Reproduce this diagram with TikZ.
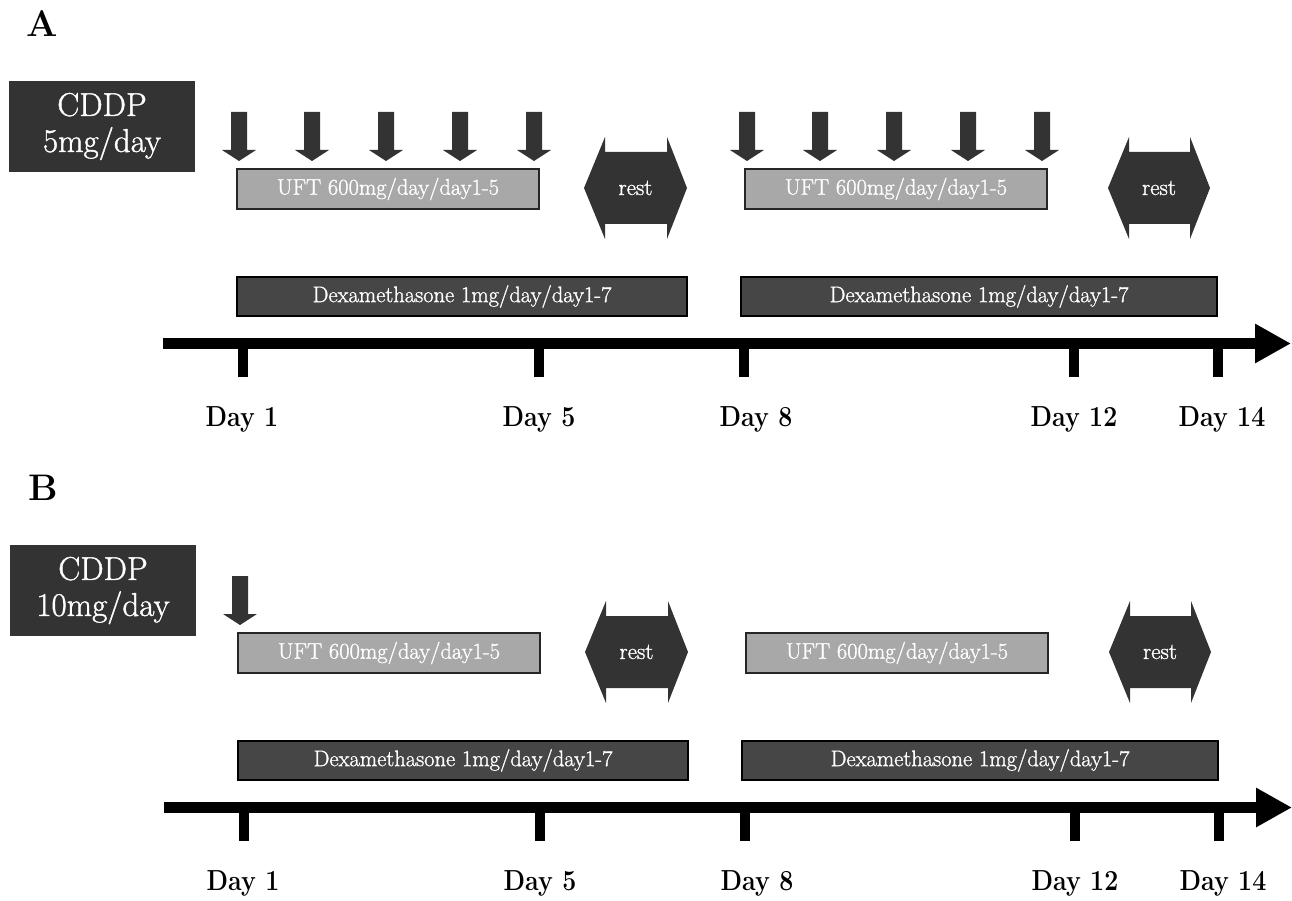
\documentclass[tikz,border=0pt]{standalone}
\usepackage{fontspec}
\usepackage{graphicx}
\newfontfamily\heavyserif{Latin Modern Roman}[FakeBold=1.2]
\usetikzlibrary{arrows.meta}
\definecolor{cdark}{HTML}{333333}
\definecolor{cuft}{HTML}{A8A8A8}
\definecolor{cdex}{HTML}{464646}
\tikzset{
  dosebox/.style={fill=cdark, text=white, minimum width=186pt, minimum height=91pt, inner sep=0pt, align=center, font=\heavyserif\fontsize{33}{36}\selectfont},
  uftbox/.style={draw=black!85, line width=1.3pt, fill=cuft, text=white, inner sep=0pt, minimum width=302pt, minimum height=40pt, font=\heavyserif\fontsize{22.5}{24}\selectfont},
  dexbox/.style={draw=black, line width=1.3pt, fill=cdex, text=white, inner sep=0pt, minimum height=39pt, font=\heavyserif\fontsize{22.5}{24}\selectfont},
  restlabel/.style={text=white, inner sep=0pt, font=\heavyserif\fontsize{23}{24}\selectfont},
  daylabel/.style={inner sep=0pt, font=\bfseries\fontsize{29}{30}\selectfont},
  panellabel/.style={inner sep=0pt, font=\bfseries\fontsize{37}{38}\selectfont},
  shapefill/.style={fill=cdark},
  timeline/.style={line width=11pt, -{Triangle[length=36pt,width=37pt]}},
  tickmark/.style={line width=10pt},
}
\newcommand\drawrest[3]{% name, left x, right x
  \fill[cdark] (#2,188) -- (#2+21,137) -- (#2+21,152) -- (#3-20,152) -- (#3-20,137) -- (#3,188)
     -- (#3-20,239) -- (#3-20,224) -- (#2+21,224) -- (#2+21,239) -- cycle;
  \node[restlabel] (#1) at ({(#2+#3)/2},188) {rest};
}
\newcommand\drawpanel[5]{% label, x shift, y shift, dose, arrow xs
  \begin{scope}[shift={(#2,#3)}]
    \node[panellabel] (#1-lbl) at (42,24) {#1};
    \node[dosebox] (#1-cddp) at (102,126.5) {CDDP\\#4};
    \foreach \c [count=\i] in {#5} {
      \fill[cdark] (\c-8,112) -- (\c+8,112) -- (\c+8,150) -- (\c+17,150) -- (\c,161) -- (\c-17,150) -- (\c-8,150) -- cycle;
    }
    \node[uftbox] (#1-uft1) at (388,189) {UFT 600mg/day/day1-5};
    \node[uftbox] (#1-uft2) at (896,189) {UFT 600mg/day/day1-5};
    \drawrest{#1-rest1}{584}{687}
    \drawrest{#1-rest2}{1108}{1210}
    \node[dexbox, minimum width=450pt] (#1-dex1) at (462,296.5) {Dexamethasone 1mg/day/day1-7};
    \node[dexbox, minimum width=476pt] (#1-dex2) at (979,296.5) {Dexamethasone 1mg/day/day1-7};
    \coordinate (#1-ts) at (163,343.5);
    \coordinate (#1-te) at (1291,343.5);
    \draw[timeline] (#1-ts) -- (#1-te);
    \foreach \c/\t/\lx in {243/1/242, 539/5/539, 744/8/756, 1074/12/1074, 1218/14/1222} {
      \coordinate (#1-tt\t) at (\c,343);
      \coordinate (#1-tb\t) at (\c,377);
      \draw[tickmark] (#1-tt\t) -- (#1-tb\t);
      \node[daylabel] (#1-day\t) at (\lx,419) {\scalebox{0.86}[1]{Day \t}};
    }
  \end{scope}
}
\begin{document}
\begin{tikzpicture}[x=1pt,y=-1pt]
  \fill[white] (0,0) rectangle (1292,901);
  \useasboundingbox (0,0) rectangle (1292,901);
  \drawpanel{A}{0}{0}{5mg/day}{239,312,386,460,534,747,820,894,968,1042}
  \drawpanel{B}{1}{464}{10mg/day}{239}
\end{tikzpicture}
\end{document}
